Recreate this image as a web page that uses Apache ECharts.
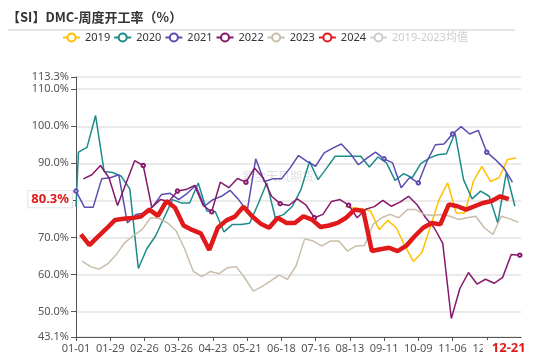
<!DOCTYPE html>
<html><head><meta charset="utf-8">
<script src="https://cdn.jsdelivr.net/npm/echarts@6/dist/echarts.min.js"></script>
<style>html,body{margin:0;padding:0;background:#fff}#c{width:550px;height:357px}</style>
</head><body><div id="c"></div>
<script>
// ---- data ----
const xTickLabels = ['01-01','01-29','02-26','03-26','04-23','05-21','06-18','07-16','08-13','09-11','10-09','11-06','12-04'];
const yTickValues = [43.1, 50, 60, 70, 80, 90, 100, 110, 113.3];
const seriesNames = ['2019','2020','2021','2022','2023','2024','2019-2023均值'];
const start2019 = '08-09';
const start2020 = '01-03';
const lead2020 = { date: '01-01', value: 78.3 };
const start2021 = '01-01';
const start2022 = '01-07';
const start2023 = '01-06';
const start2024 = '01-05';
const v2019 = [78.3, 77.9, 77.7, 77.1, 72.1, 74.6, 72.6, 67.7, 63.5, 65.9, 73.0, 80.2, 84.7, 76.6, 76.6, 85.1, 89.2, 85.1, 86.1, 91.0, 91.4];
const v2020 = [93.0, 94.3, 102.9, 87.8, 87.5, 86.5, 83.1, 61.6, 67.0, 70.3, 75.3, 80.2, 79.3, 79.3, 84.7, 77.1, 76.9, 71.5, 73.5, 73.5, 73.8, 79.0, 84.7, 75.3, 76.2, 78.4, 82.9, 90.5, 85.6, 88.7, 91.9, 91.9, 91.9, 91.9, 89.0, 91.7, 90.1, 85.4, 87.2, 86.1, 89.9, 91.4, 92.3, 92.6, 98.2, 85.6, 80.4, 82.5, 81.1, 73.9, 87.5, 78.4];
const v2021 = [82.5, 78.1, 78.1, 85.8, 86.1, 86.9, 73.9, 76.2, 76.6, 78.4, 81.6, 81.9, 80.2, 81.9, 84.0, 78.4, 80.2, 81.1, 82.7, 80.2, 77.1, 91.2, 85.1, 85.8, 85.8, 88.7, 92.1, 90.5, 89.2, 92.8, 94.1, 95.2, 92.8, 89.6, 91.4, 93.0, 91.2, 90.1, 83.4, 86.2, 84.7, 90.5, 95.0, 95.2, 97.9, 99.9, 97.9, 98.9, 93.0, 91.0, 88.7, 84.9];
const v2022 = [85.8, 86.9, 89.4, 86.1, 78.6, 84.7, 90.7, 89.4, 78.1, 80.2, 79.7, 82.5, 82.9, 84.0, 78.6, 76.9, 84.9, 83.4, 85.9, 84.9, 88.7, 86.1, 81.1, 79.1, 78.6, 80.4, 78.8, 75.3, 76.2, 79.7, 80.2, 78.7, 75.3, 77.6, 78.3, 80.0, 78.4, 79.5, 81.1, 78.8, 75.3, 72.6, 68.4, 48.1, 56.2, 60.5, 57.4, 58.7, 57.6, 59.2, 65.4, 65.2];
const v2023 = [63.6, 62.1, 61.4, 62.9, 65.4, 68.6, 70.5, 72.1, 75.3, 75.1, 73.9, 71.7, 66.8, 60.8, 59.4, 60.8, 60.2, 61.8, 62.1, 59.1, 55.5, 56.7, 58.2, 59.8, 58.7, 62.3, 69.6, 69.0, 67.7, 69.0, 69.0, 66.3, 67.7, 67.8, 73.5, 75.3, 76.2, 75.3, 77.5, 77.5, 76.2, 75.9, 76.2, 75.7, 74.8, 75.3, 75.7, 72.6, 70.8, 75.7, 75.0, 74.1];
const v2024 = [70.8, 67.9, 70.2, 72.4, 74.7, 75.0, 75.2, 75.6, 77.5, 75.8, 79.8, 78.0, 73.2, 72.0, 71.1, 66.6, 72.6, 74.6, 75.6, 78.3, 75.7, 73.7, 72.6, 75.3, 73.9, 73.9, 75.7, 74.8, 72.8, 73.2, 73.9, 75.3, 77.5, 77.1, 66.3, 66.8, 67.2, 66.3, 67.7, 70.3, 72.6, 73.9, 73.5, 78.9, 78.4, 77.5, 78.4, 79.3, 79.8, 81.1, 80.3];
const vAvg = [];

// ---- helpers ----
const cum = [0,31,59,90,120,151,181,212,243,273,304,334];
function dayOf(md){const p=md.split('-').map(Number);return cum[p[0]-1]+p[1]-1;}
function mdOf(day){let m=11;while(cum[m]>day)m--;return String(m+1).padStart(2,'0')+'-'+String(day-cum[m]+1).padStart(2,'0');}
function weekly(start,n){const s=dayOf(start);return Array.from({length:n},(_,i)=>s+7*i);}

const d2019 = weekly(start2019, v2019.length);
const d2020 = [dayOf(lead2020.date)].concat(weekly(start2020, v2020.length));
const vv2020 = [lead2020.value].concat(v2020);
const d2021 = weekly(start2021, v2021.length);
const d2022 = weekly(start2022, v2022.length);
const d2023 = weekly(start2023, v2023.length);
const d2024 = weekly(start2024, v2024.length);

const colors = ['#FFC000','#1E8B8B','#5B4CB2','#86196B','#C9BDAA','#E0191B','#CCCCCC'];
function mk(name, days, vals, color, width, marks, z){
  return {name, type:'line', symbol:'emptyCircle', symbolSize:3.5, showSymbol:true, z,
    lineStyle:{width, color}, itemStyle:{color, borderWidth:1},
    emphasis:{disabled:true}, silent:true,
    data: vals.map((v,i)=>({value:[days[i],v], symbol: marks.includes(i)?'emptyCircle':'none'}))};
}
const lastDay = d2024[d2024.length-1];
const lastVal = v2024[v2024.length-1];

const font = "'Noto Sans','Noto Sans CJK SC',sans-serif";
const s2024 = mk('2024', d2024, v2024, colors[5], 4.5, [], 5);
s2024.clip = false;
s2024.markLine = {silent:true, symbol:'none', animation:false,
  lineStyle:{color:'rgba(255,255,255,0)', opacity:1, width:0},
  label:{show:true, position:'start', distance:4, opacity:1, formatter:(p)=>Number(p.value).toFixed(1)+'%',
    color:'#E0191B', fontWeight:'bold', fontSize:13, backgroundColor:'#fff',
    borderColor:'#e4e4e4', borderWidth:1, padding:[2,3,1,3]},
  emphasis:{disabled:true},
  data:[{yAxis:lastVal}]};

const chart = echarts.init(document.getElementById('c'), null, {renderer:'canvas'});
chart.setOption({
  animation:false,
  textStyle:{fontFamily:font},
  title:{text:'【SI】DMC-周度开工率（%）', left:7, top:11, padding:0,
    textStyle:{fontSize:13, fontWeight:'bold', color:'#333', fontFamily:"'Noto Sans CJK SC',sans-serif"}},
  graphic:[
    {type:'line', shape:{x1:8,y1:30,x2:515,y2:30}, style:{stroke:'#c8c8c8', lineWidth:1}, silent:true},
    {type:'text', left:242, top:170, silent:true, z:0,
      style:{text:'紫金天风期货', fill:'rgba(0,0,0,0.13)', font:"12px 'Noto Sans CJK SC'"}}
  ],
  legend:{data:seriesNames, top:32, left:62, padding:0, itemWidth:17, itemHeight:10, itemGap:3,
    textStyle:{fontSize:11, color:'#333'}, inactiveColor:'#ccc',
    selected:{'2019-2023均值':false}},
  grid:{left:76, right:29, top:77, bottom:20},
  xAxis:{type:'value', min:0, max:364, interval:28,
    axisLine:{show:true, lineStyle:{color:'#555'}},
    axisTick:{show:true, length:4, lineStyle:{color:'#555'}},
    axisLabel:{fontSize:11, color:'#555', margin:6, showMaxLabel:false,
      formatter:(v)=>{const i=Math.round(v/28);return (v%28===0 && xTickLabels[i])?xTickLabels[i]:'';}},
    splitLine:{show:false},
    axisPointer:{show:true, status:'show', value:lastDay, snap:false, triggerTooltip:false,
      lineStyle:{opacity:0},
      label:{show:true, formatter:(p)=>mdOf(Math.round(p.value)), color:'#E0191B', fontWeight:'bold', fontSize:13,
        backgroundColor:'#fff', padding:[2,9,2,9], margin:4}}
  },
  yAxis:{type:'value', min:43.1, max:113.3,
    axisLine:{show:true, lineStyle:{color:'#555'}},
    axisTick:{show:true, length:5, lineStyle:{color:'#555'}, customValues:yTickValues},
    axisLabel:{fontSize:11, color:'#555', margin:7, customValues:yTickValues, formatter:(v)=>v.toFixed(1)+'%'},
    splitLine:{show:true, lineStyle:{color:'#e3e3e3', width:1.5}}
  },
  axisPointer:{triggerOn:'none'},
  series:[
    mk('2019', d2019, v2019, colors[0], 1.5, [], 3),
    mk('2020', d2020, vv2020, colors[1], 1.5, [], 3),
    mk('2021', d2021, v2021, colors[2], 1.5, [0,36,40,44,48], 3),
    mk('2022', d2022, v2022, colors[3], 1.5, [7,11,15,19,23,27,31,51], 3),
    mk('2023', d2023, v2023, colors[4], 1.5, [], 3),
    s2024,
    mk('2019-2023均值', [], vAvg, colors[6], 1.5, [], 2)
  ]
});
</script></body></html>
